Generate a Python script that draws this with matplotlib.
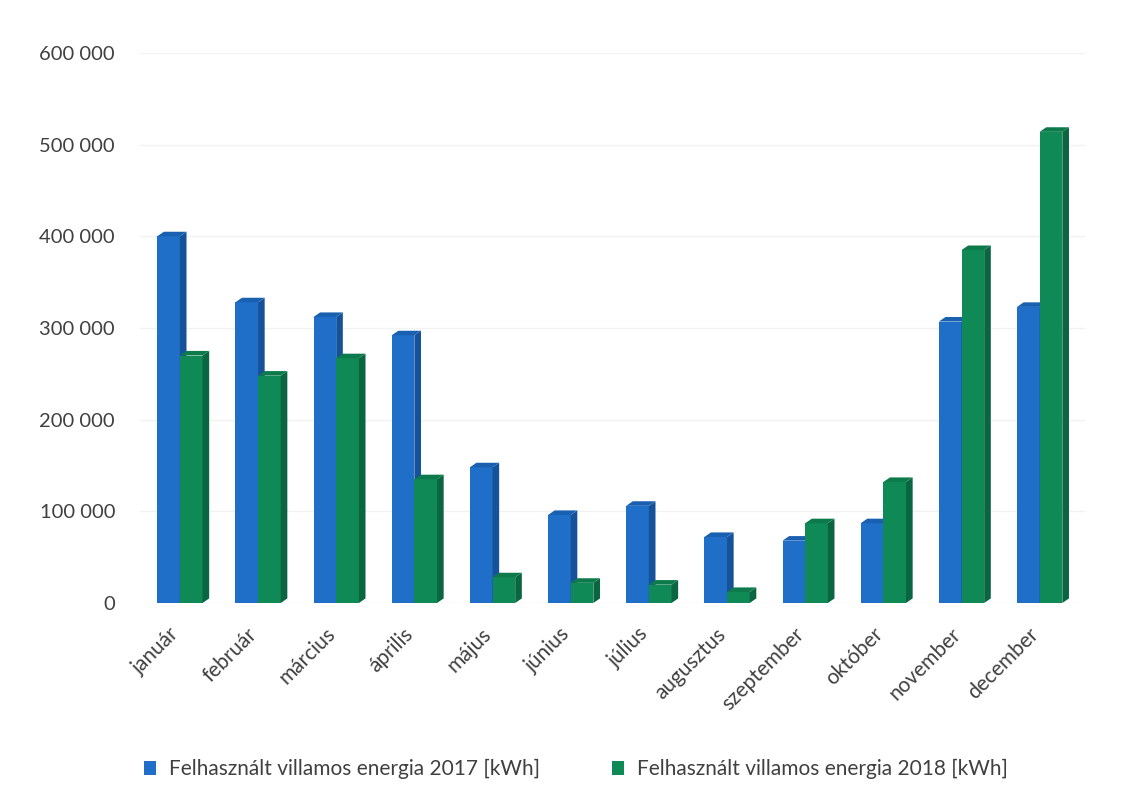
import numpy as np
import matplotlib.pyplot as plt
from matplotlib.patches import Polygon
from matplotlib.ticker import FuncFormatter

plt.rcParams['font.family'] = ['Lato', 'DejaVu Sans']

# data
months = ['január', 'február', 'március', 'április', 'május', 'június',
          'július', 'augusztus', 'szeptember', 'október', 'november', 'december']
energy_2017 = [400000, 328000, 312000, 292000, 148000, 96000,
               106000, 72000, 68000, 87000, 307000, 323000]
energy_2018 = [270000, 248000, 267000, 135000, 28000, 22000,
               20000, 12000, 87000, 132000, 385000, 514000]
label_2017 = 'Felhasznált villamos energia 2017 [kWh]'
label_2018 = 'Felhasznált villamos energia 2018 [kWh]'

blue, blue_side, blue_top = '#1f6fc8', '#16529a', '#1a60b0'
green, green_side, green_top = '#0f8a56', '#0a6640', '#0d7a4c'

fig = plt.figure(figsize=(11.28, 7.98), dpi=100)
ax = fig.add_axes([140 / 1128, 1 - 603 / 798, 945 / 1128, 550 / 798])

x = np.arange(len(months))
w = 0.29
dx = 0.085      # depth offset in x (data units)
dy = 5000       # depth offset in y (data units)


def bars3d(xs, vals, color, side, top, label):
    ax.bar(xs, vals, width=w, align='edge', color=color, label=label, zorder=3)
    for xi, v in zip(xs, vals):
        ax.add_patch(Polygon([(xi + w, 0), (xi + w + dx, dy), (xi + w + dx, v + dy), (xi + w, v)],
                             closed=True, facecolor=side, edgecolor='none', zorder=3))
        ax.add_patch(Polygon([(xi, v), (xi + dx, v + dy), (xi + w + dx, v + dy), (xi + w, v)],
                             closed=True, facecolor=top, edgecolor='none', zorder=3))


bars3d(x - w, energy_2017, blue, blue_side, blue_top, label_2017)
bars3d(x, energy_2018, green, green_side, green_top, label_2018)

ax.set_xlim(-0.51, 11.58)
ax.set_ylim(0, 600000)
ax.set_yticks(np.arange(0, 600001, 100000))
ax.yaxis.set_major_formatter(FuncFormatter(lambda v, p: f'{int(v):,}'.replace(',', ' ')))
ax.grid(axis='y', color='#f2f2f2', linewidth=1, zorder=0)
for s in ax.spines.values():
    s.set_visible(False)
ax.tick_params(axis='both', length=0, labelsize=14.5, colors='#404040')
ax.tick_params(axis='y', pad=18)
ax.tick_params(axis='x', pad=15, labelsize=15)
ax.set_xticks(x - 0.14)
ax.set_xticklabels(months, rotation=45, ha='right', rotation_mode='anchor')

fig.legend(loc='lower left', bbox_to_anchor=(125 / 1128, 0.0), ncol=2, frameon=False,
           fontsize=15, handlelength=0.6, handleheight=0.6, columnspacing=3.45,
           handletextpad=0.6, labelcolor='#404040')

fig.savefig('out.png', dpi=100, facecolor='white')
